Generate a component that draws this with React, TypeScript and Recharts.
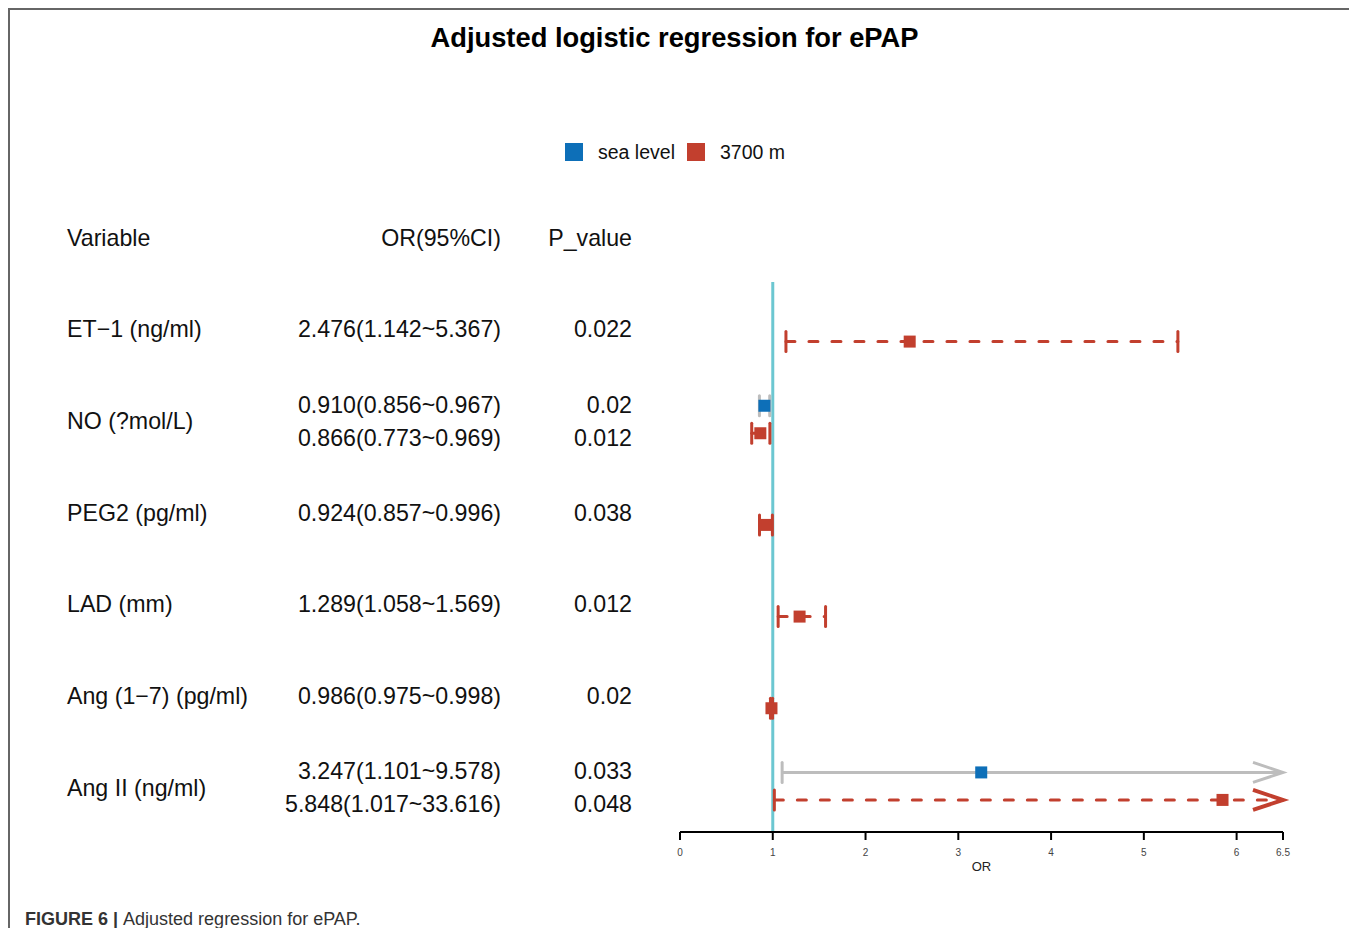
import React from "react"
import { ComposedChart, XAxis, YAxis, Scatter, ReferenceLine } from "recharts"

// table / forest plot data (one entry per estimate row)
const variables = ["ET−1 (ng/ml)", "NO (?mol/L)", "PEG2 (pg/ml)", "LAD (mm)", "Ang (1−7) (pg/ml)", "Ang II (ng/ml)"]
const rowVariable = [0, 1, 1, 2, 3, 4, 5, 5]
const rowGroup = ["3700 m", "sea level", "3700 m", "3700 m", "3700 m", "3700 m", "sea level", "3700 m"]
const orValues = [2.476, 0.910, 0.866, 0.924, 1.289, 0.986, 3.247, 5.848]
const ciLower = [1.142, 0.856, 0.773, 0.857, 1.058, 0.975, 1.101, 1.017]
const ciUpper = [5.367, 0.967, 0.969, 0.996, 1.569, 0.998, 9.578, 33.616]
const pValues = ["0.022", "0.02", "0.012", "0.038", "0.012", "0.02", "0.033", "0.048"]

const groups = ["sea level", "3700 m"]
const groupColors = ["#0d6fb8", "#c23f2e"]
const xTicks = [0, 1, 2, 3, 4, 5, 6, 6.5]
const X_MAX = 6.5

const FONT = "'Liberation Sans', Arial, sans-serif"
const W = 1348
const H = 920
const PLOT_TOP = 274
const ROW_H = 550 / 6

// where each row sits on the (row-unit) y scale
const rowCount = (v: number) => rowVariable.filter(r => r === v).length
const rowIndexInVar = (i: number) => rowVariable.slice(0, i).filter(r => r === rowVariable[i]).length
const markPos = rowVariable.map((v, i) => (rowCount(v) === 1 ? v + 0.65 : v + 0.5 + (rowIndexInVar(i) === 0 ? -0.15 : 0.15)))
const textPos = rowVariable.map((v, i) => (rowCount(v) === 1 ? v + 0.5 : v + 0.5 + (rowIndexInVar(i) === 0 ? -0.18 : 0.18)))

const rows = orValues.map((or, i) => ({ x: or, y: markPos[i], lo: ciLower[i], hi: ciUpper[i], group: rowGroup[i] }))
const seaPts = rows.filter(r => r.group === "sea level")
const altPts = rows.filter(r => r.group === "3700 m")

const toPx = (pos: number) => PLOT_TOP + pos * ROW_H + 1.5

function ciShape(sea: boolean, clipped: boolean) {
  const color = sea ? "#bdbdbd" : groupColors[1]
  return (p: any) => {
    const { x1, y1, x2 } = p
    return (
      <g>
        <line x1={x1} y1={y1} x2={x2} y2={y1} stroke={color} strokeWidth={3}
          strokeDasharray={sea ? undefined : "9 14"} strokeLinecap={sea ? "butt" : "round"} />
        <line x1={x1} y1={y1 - 10} x2={x1} y2={y1 + 10} stroke={color} strokeWidth={3} strokeLinecap="round" />
        {clipped ? (
          <polyline points={`${x2 - 30},${y1 - 10} ${x2},${y1} ${x2 - 30},${y1 + 10}`} fill="none"
            stroke={color} strokeWidth={sea ? 3 : 4} strokeLinejoin="miter" />
        ) : (
          <line x1={x2} y1={y1 - 10} x2={x2} y2={y1 + 10} stroke={color} strokeWidth={3} strokeLinecap="round" />
        )}
      </g>
    )
  }
}

const square = (color: string) => (p: any) => (
  <rect x={p.cx - 6} y={p.cy - 6} width={12} height={12} fill={color} />
)

export default function App() {
  return (
    <div style={{ position: "relative", width: W, height: H, overflow: "hidden", fontFamily: FONT }}>
      <div style={{ position: "absolute", left: 0, top: 0, width: W - 1, height: H + 10, boxSizing: "border-box",
        borderTop: "2px solid #666", borderLeft: "2px solid #666", borderRight: "2px solid #777" }} />
      <div style={{ position: "absolute", left: 0, top: 0 }}>
        <ComposedChart width={W} height={H} margin={{ top: PLOT_TOP, right: 73, bottom: 56, left: 672 }}>
          <XAxis dataKey="x" type="number" domain={[0, X_MAX]} ticks={xTicks} interval={0}
            allowDataOverflow height={40} axisLine={{ stroke: "#000", strokeWidth: 2 }}
            tickLine={{ stroke: "#000", strokeWidth: 2 }} tickSize={8} tickMargin={9}
            tick={{ fill: "#444", fontSize: 10, fontFamily: FONT }}
            label={{ value: "OR", position: "insideBottom", offset: 1, fill: "#222", fontSize: 13, fontFamily: FONT }} />
          <YAxis dataKey="y" type="number" domain={[0, 6]} reversed hide width={0} />
          <ReferenceLine x={1} stroke="#6cc7d1" strokeWidth={3} />
          {rows.map((r, i) => (
            <ReferenceLine key={i} ifOverflow="visible"
              segment={[{ x: r.lo, y: r.y }, { x: Math.min(r.hi, X_MAX), y: r.y }]}
              shape={ciShape(r.group === "sea level", r.hi > X_MAX)} />
          ))}
          <Scatter data={seaPts} dataKey="y" isAnimationActive={false} shape={square(groupColors[0])} />
          <Scatter data={altPts} dataKey="y" isAnimationActive={false} shape={square(groupColors[1])} />
        </ComposedChart>
      </div>
      <svg width={W} height={H} style={{ position: "absolute", left: 0, top: 0, pointerEvents: "none" }} fontFamily={FONT}>
        <text x={666.5} y={29} textAnchor="middle" dominantBaseline="central" fontSize={27.3} fontWeight="bold" fill="#000">
          Adjusted logistic regression for ePAP
        </text>
        {groups.map((g, i) => (
          <g key={g}>
            <rect x={i === 0 ? 557 : 679} y={135} width={18} height={18} fill={groupColors[i]} />
            <text x={i === 0 ? 590 : 712} y={144} dominantBaseline="central" fontSize={19.5} fill="#111">{g}</text>
          </g>
        ))}
        <g fontSize={23.2} fill="#111">
          <text x={59} y={230} dominantBaseline="central">Variable</text>
          <text x={493} y={230} dominantBaseline="central" textAnchor="end">OR(95%CI)</text>
          <text x={624} y={230} dominantBaseline="central" textAnchor="end">P_value</text>
          {variables.map((v, k) => (
            <text key={v} x={59} y={toPx(k + 0.5)} dominantBaseline="central">{v}</text>
          ))}
          {orValues.map((or, i) => (
            <g key={i}>
              <text x={493} y={toPx(textPos[i])} dominantBaseline="central" textAnchor="end">
                {`${or.toFixed(3)}(${ciLower[i].toFixed(3)}~${ciUpper[i].toFixed(3)})`}
              </text>
              <text x={624} y={toPx(textPos[i])} dominantBaseline="central" textAnchor="end">{pValues[i]}</text>
            </g>
          ))}
        </g>
        <text x={17} y={911} dominantBaseline="central" fontSize={18} fill="#333">
          <tspan fontWeight="bold">FIGURE 6 | </tspan>
          <tspan>Adjusted regression for ePAP.</tspan>
        </text>
      </svg>
    </div>
  )
}
